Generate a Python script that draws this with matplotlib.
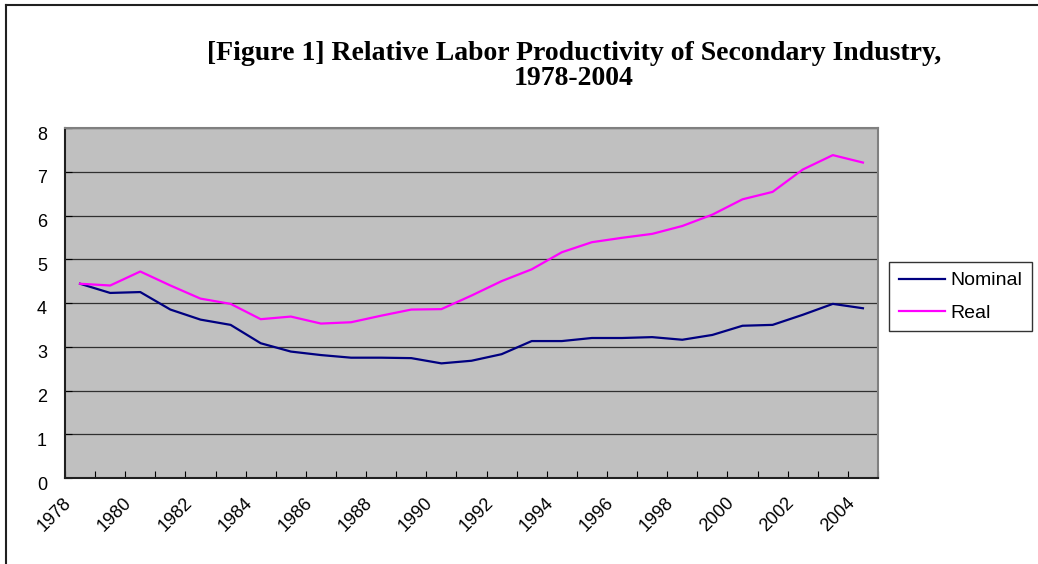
import matplotlib.pyplot as plt
from matplotlib.lines import Line2D
from matplotlib.transforms import ScaledTranslation
import numpy as np

years = list(range(1978, 2005))
nominal = [4.44, 4.23, 4.25, 3.85, 3.62, 3.50, 3.08, 2.89, 2.81, 2.75, 2.75, 2.74, 2.62, 2.68,
           2.83, 3.13, 3.13, 3.20, 3.20, 3.22, 3.16, 3.27, 3.48, 3.50, 3.73, 3.98, 3.88]
real = [4.44, 4.40, 4.72, 4.40, 4.10, 3.98, 3.63, 3.69, 3.53, 3.56, 3.71, 3.85, 3.86, 4.17,
        4.50, 4.77, 5.16, 5.39, 5.49, 5.58, 5.76, 6.02, 6.37, 6.54, 7.05, 7.38, 7.21]
title = "[Figure 1] Relative Labor Productivity of Secondary Industry,\n1978-2004"

fig = plt.figure(figsize=(10.38, 5.64), dpi=100)
ax = fig.add_axes([65 / 1038, 1 - 478 / 564, 813 / 1038, 350 / 564])
ax.set_facecolor('#C0C0C0')

x = np.arange(len(years))
ax.plot(x, nominal, color='#000080', lw=1.6, label='Nominal')
ax.plot(x, real, color='#FF00FF', lw=1.6, label='Real')

ax.set_xlim(-0.5, len(years) - 0.5)
ax.set_ylim(0, 8)
ax.set_yticks(range(0, 9))
ax.yaxis.grid(True, color='#303030', lw=0.9)
ax.set_axisbelow(True)

# category boundaries carry the ticks, labels every other year
ax.set_xticks(np.arange(len(years) + 1) - 0.5, minor=False)
ax.set_xticklabels([])
ax.set_xticks(x[::2], minor=True)
ax.set_xticklabels([str(y) for y in years[::2]], minor=True, rotation=45,
                   ha='right', va='top', rotation_mode='anchor', fontsize=13,
                   family='Liberation Sans')
ax.tick_params(axis='x', which='minor', length=0, pad=12)
ax.tick_params(axis='x', which='major', direction='in', length=5, color='black')
ax.tick_params(axis='y', direction='in', length=5, labelsize=13, pad=13)

shift_x = ScaledTranslation(-0.17, 0, fig.dpi_scale_trans)
for lab in ax.get_xticklabels(minor=True):
    lab.set_transform(lab.get_transform() + shift_x)
shift_y = ScaledTranslation(0, -0.05, fig.dpi_scale_trans)
for lab in ax.get_yticklabels():
    lab.set_family('Liberation Sans')
    lab.set_transform(lab.get_transform() + shift_y)

for s in ['top', 'right']:
    ax.spines[s].set_color('#808080')
    ax.spines[s].set_linewidth(1.5)
for s in ['left', 'bottom']:
    ax.spines[s].set_color('#202020')
    ax.spines[s].set_linewidth(1.5)

fig.text(574 / 1038, 1 - 41 / 564, title, ha='center', va='top', fontsize=20,
         fontweight='bold', family='Liberation Serif', linespacing=1.0)

leg = ax.legend(loc='upper left', bbox_to_anchor=(889 / 1038, 1 - 262 / 564),
                bbox_transform=fig.transFigure, frameon=True, fancybox=False,
                prop={'family': 'Liberation Sans', 'size': 14}, handlelength=2.4,
                handletextpad=0.25, borderpad=0.5, labelspacing=0.75, borderaxespad=0)
leg.get_frame().set_edgecolor('black')
leg.get_frame().set_linewidth(1.0)

# outer chart frame (left and top edges visible)
fig.add_artist(Line2D([6 / 1038, 6 / 1038], [0, 1 - 5 / 564], transform=fig.transFigure,
                      color='#202020', lw=1.5))
fig.add_artist(Line2D([6 / 1038, 1], [1 - 5 / 564, 1 - 5 / 564], transform=fig.transFigure,
                      color='#202020', lw=1.5))

fig.savefig('out.png', dpi=100)
